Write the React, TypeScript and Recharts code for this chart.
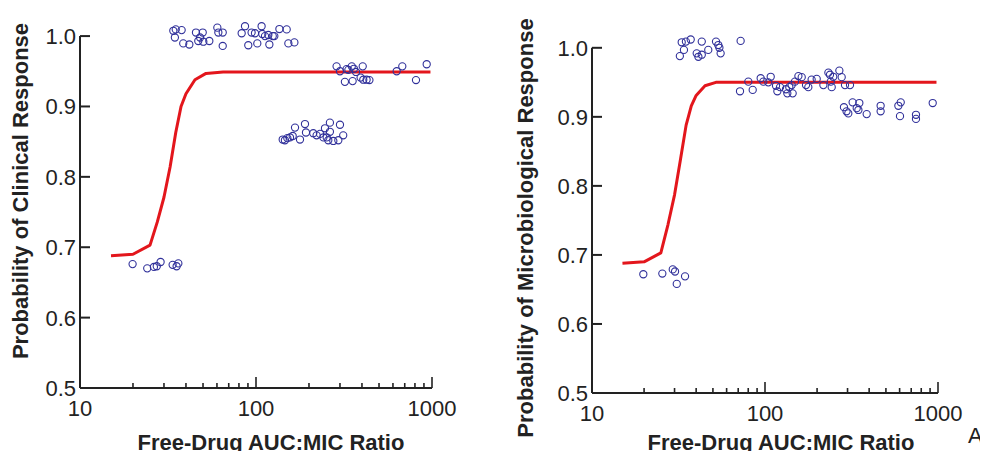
import React from "react";
import { ReferenceLine, Scatter, ScatterChart, XAxis, YAxis } from "recharts";

const xTicks = [10, 20, 30, 40, 50, 60, 70, 80, 90, 100, 200, 300, 400, 500, 600, 700, 800, 900, 1000];
const majorTicks = [10, 100, 1000];
const yTicks = [0.5, 0.6, 0.7, 0.8, 0.9, 1.0];

// fitted curves (same x grid for both panels)
const curveX = [15, 20, 25, 27.5, 30, 32.5, 35, 37.5, 40, 45, 52, 65, 100, 980];
const clinicalCurveY = [0.688, 0.69, 0.703, 0.736, 0.771, 0.814, 0.863, 0.9, 0.918, 0.938, 0.947, 0.949, 0.949, 0.949];
const microCurveY = [0.688, 0.69, 0.703, 0.744, 0.787, 0.839, 0.888, 0.916, 0.931, 0.945, 0.95, 0.95, 0.95, 0.95];

// clinical response observations [AUC:MIC, probability]
const clinicalLow = [
  [19.9, 0.676], [24.1, 0.67], [26.3, 0.672], [27.3, 0.673], [28.7, 0.679], [33.6, 0.675], [35.4, 0.673], [36.2, 0.677],
];
const clinicalHigh = [
  [33.9, 1.0075], [35.0, 1.0095], [37.8, 1.0085], [34.6, 0.998], [38.6, 0.9896], [41.8, 0.988], [45.6, 1.005],
  [47.0, 0.993], [49.8, 1.005], [48.1, 0.998], [50.2, 0.992], [54.3, 0.993], [60.3, 1.012], [61.1, 1.005],
  [64.7, 1.005], [64.7, 0.986], [82.9, 1.004], [86.6, 1.014], [90.4, 0.987], [94.4, 1.005], [98.7, 1.004],
  [101.7, 0.9896], [107.6, 1.014], [108.6, 1.003], [112.5, 1.0], [117.5, 1.0015], [119.1, 0.988], [124.5, 1.0],
  [127.1, 1.0], [135.8, 1.01], [149.4, 1.0095], [152.7, 0.9896], [165.2, 0.991],
];
const clinicalMid = [
  [141.8, 0.853], [146, 0.852], [150.7, 0.855], [156, 0.856], [161.6, 0.858], [166.6, 0.87], [177.8, 0.853],
  [189.8, 0.875], [192.3, 0.863], [211.6, 0.862], [221, 0.859], [231, 0.861], [241.5, 0.856], [246.6, 0.869],
  [252.2, 0.856], [263, 0.877], [263, 0.864], [257.5, 0.852], [275, 0.851], [293.6, 0.852], [300, 0.874], [313, 0.859],
];
const clinicalRight = [
  [287, 0.957], [300, 0.95], [327, 0.953], [335, 0.952], [350, 0.957], [360, 0.9535], [370, 0.949], [404, 0.957],
  [320, 0.935], [354, 0.936], [393, 0.941], [407, 0.938], [425, 0.938], [441, 0.9375], [630, 0.95], [678, 0.957],
  [811, 0.9375], [933, 0.96],
];

// microbiological response observations
const microLow = [
  [19.8, 0.672], [25.5, 0.673], [29.3, 0.679], [30.2, 0.676], [30.9, 0.658], [34.5, 0.669],
];
const microHigh = [
  [33.0, 1.008], [34.9, 1.009], [37.2, 1.012], [32.2, 0.988], [34.0, 0.997], [40.3, 0.992], [41.2, 0.987],
  [43.1, 1.009], [43.1, 0.99], [47.0, 0.997], [52.1, 1.009], [53.7, 1.004], [54.5, 1.0], [55.4, 0.992], [72.3, 1.01],
];
const microMid = [
  [71.7, 0.937], [80.1, 0.951], [84.9, 0.939], [94.4, 0.956], [97.8, 0.951], [104.5, 0.95], [107.9, 0.958],
  [115.8, 0.945], [117.9, 0.937], [122.2, 0.943], [132.2, 0.94], [134.6, 0.934], [138.2, 0.943], [142.6, 0.946],
  [144.5, 0.934], [149, 0.951], [156, 0.959], [163, 0.9575], [172.6, 0.946], [178, 0.943], [186, 0.954],
  [199, 0.955], [217.5, 0.946], [232.5, 0.964], [237.5, 0.961], [240, 0.951], [243, 0.943], [248, 0.958],
  [269, 0.967], [277.5, 0.9575], [290, 0.946], [310, 0.946],
];
const microRight = [
  [286, 0.914], [296, 0.908], [303, 0.905], [321, 0.921], [339, 0.9126], [351, 0.92], [346.7, 0.91], [387, 0.904],
  [466, 0.916], [466, 0.908], [590, 0.916], [609, 0.921], [603, 0.901], [746, 0.903], [746, 0.897], [932, 0.92],
];

const INK = "#222";
const RED = "#e3161c";
const BLUE = "#30309a";
const FONT = "'Liberation Sans', Arial, sans-serif";

const toPts = (rows: number[][]) => rows.map(([x, y]) => ({ x, y }));
const toCurve = (ys: number[]) => curveX.map((x, i) => ({ x, y: ys[i] }));

function XTick({ x, y, payload }: any) {
  const major = majorTicks.includes(payload.value);
  return (
    <g>
      <line x1={x} x2={x} y1={y} y2={y - (major ? 11 : 5)} stroke={INK} strokeWidth={1.6} />
      {major && (
        <text x={x} y={y + 28} textAnchor="middle" fontSize={22} fill={INK} fontFamily={FONT}>
          {payload.value}
        </text>
      )}
    </g>
  );
}

function YTick({ x, y, payload }: any) {
  return (
    <g>
      <line x1={x} x2={x + 10} y1={y} y2={y} stroke={INK} strokeWidth={2} />
      <text x={x - 4} y={y + 8} textAnchor="end" fontSize={22} fill={INK} fontFamily={FONT}>
        {payload.value.toFixed(1)}
      </text>
    </g>
  );
}

const Circle = (p: any) => <circle cx={p.cx} cy={p.cy} r={3.6} fill="none" stroke={BLUE} strokeWidth={1.1} />;

type PanelProps = {
  left: number;
  width: number;
  margin: { top: number; right: number; bottom: number; left: number };
  yAxisWidth: number;
  xAxisHeight: number;
  curve: { x: number; y: number }[];
  groups: { x: number; y: number }[][];
  yTitle: string;
  yTitlePos: [number, number];
  xTitleX: number;
  extra?: React.ReactNode;
};

function Panel(props: PanelProps) {
  const { left, width, margin, yAxisWidth, xAxisHeight, curve, groups, yTitle, yTitlePos, xTitleX, extra } = props;
  const [tx, ty] = yTitlePos;
  return (
    <div style={{ position: "absolute", left: left - 8, top: -8 }}>
      <ScatterChart width={width} height={459} margin={margin}>
        <XAxis
          type="number"
          dataKey="x"
          scale="log"
          domain={[10, 1000]}
          allowDataOverflow
          ticks={xTicks}
          interval={0}
          tickLine={false}
          tickSize={0}
          tickMargin={0}
          tick={<XTick />}
          height={xAxisHeight}
          axisLine={{ stroke: INK, strokeWidth: 2 }}
          label={() => (
            <g>
              <text x={xTitleX} y={450} textAnchor="middle" fontSize={22} fontWeight="bold" fill={INK} fontFamily={FONT}>
                Free-Drug AUC:MIC Ratio
              </text>
              {extra}
            </g>
          )}
        />
        <YAxis
          type="number"
          dataKey="y"
          domain={[0.5, 1.02]}
          allowDataOverflow
          ticks={yTicks}
          interval={0}
          tickLine={false}
          tickSize={0}
          tickMargin={0}
          tick={<YTick />}
          width={yAxisWidth}
          axisLine={false}
          label={() => (
            <text
              x={tx}
              y={ty}
              transform={`rotate(-90, ${tx}, ${ty})`}
              textAnchor="middle"
              dominantBaseline="central"
              fontSize={22}
              fontWeight="bold"
              fill={INK}
              fontFamily={FONT}
            >
              {yTitle}
            </text>
          )}
        />
        <ReferenceLine
          segment={[
            { x: 10, y: 0.5 },
            { x: 10, y: 1.0 },
          ]}
          stroke={INK}
          strokeWidth={2}
        />
        <Scatter
          data={curve}
          line={{ stroke: RED, strokeWidth: 3, strokeLinejoin: "round" }}
          lineType="joint"
          shape={() => <g />}
          isAnimationActive={false}
        />
        {groups.map((g, i) => (
          <Scatter key={i} data={g} shape={Circle} isAnimationActive={false} />
        ))}
      </ScatterChart>
    </div>
  );
}

export default function App() {
  return (
    <div style={{ position: "relative", width: 972, height: 443, background: "#fff" }}>
      <Panel
        left={0}
        width={490}
        margin={{ top: 22, right: 58, bottom: 0, left: 0 }}
        yAxisWidth={80}
        xAxisHeight={71}
        curve={toCurve(clinicalCurveY)}
        groups={[toPts(clinicalLow), toPts(clinicalHigh), toPts(clinicalMid), toPts(clinicalRight)]}
        yTitle="Probability of Clinical Response"
        yTitlePos={[20, 191]}
        xTitleX={271}
      />
      <Panel
        left={490}
        width={498}
        margin={{ top: 34, right: 50, bottom: 0, left: 0 }}
        yAxisWidth={102}
        xAxisHeight={66}
        curve={toCurve(microCurveY)}
        groups={[toPts(microLow), toPts(microHigh), toPts(microMid), toPts(microRight)]}
        yTitle="Probability of Microbiological Response"
        yTitlePos={[35, 228]}
        xTitleX={291}
        extra={
          <text x={478} y={443} fontSize={22} fill={INK} fontFamily={FONT}>
            A
          </text>
        }
      />
    </div>
  );
}
